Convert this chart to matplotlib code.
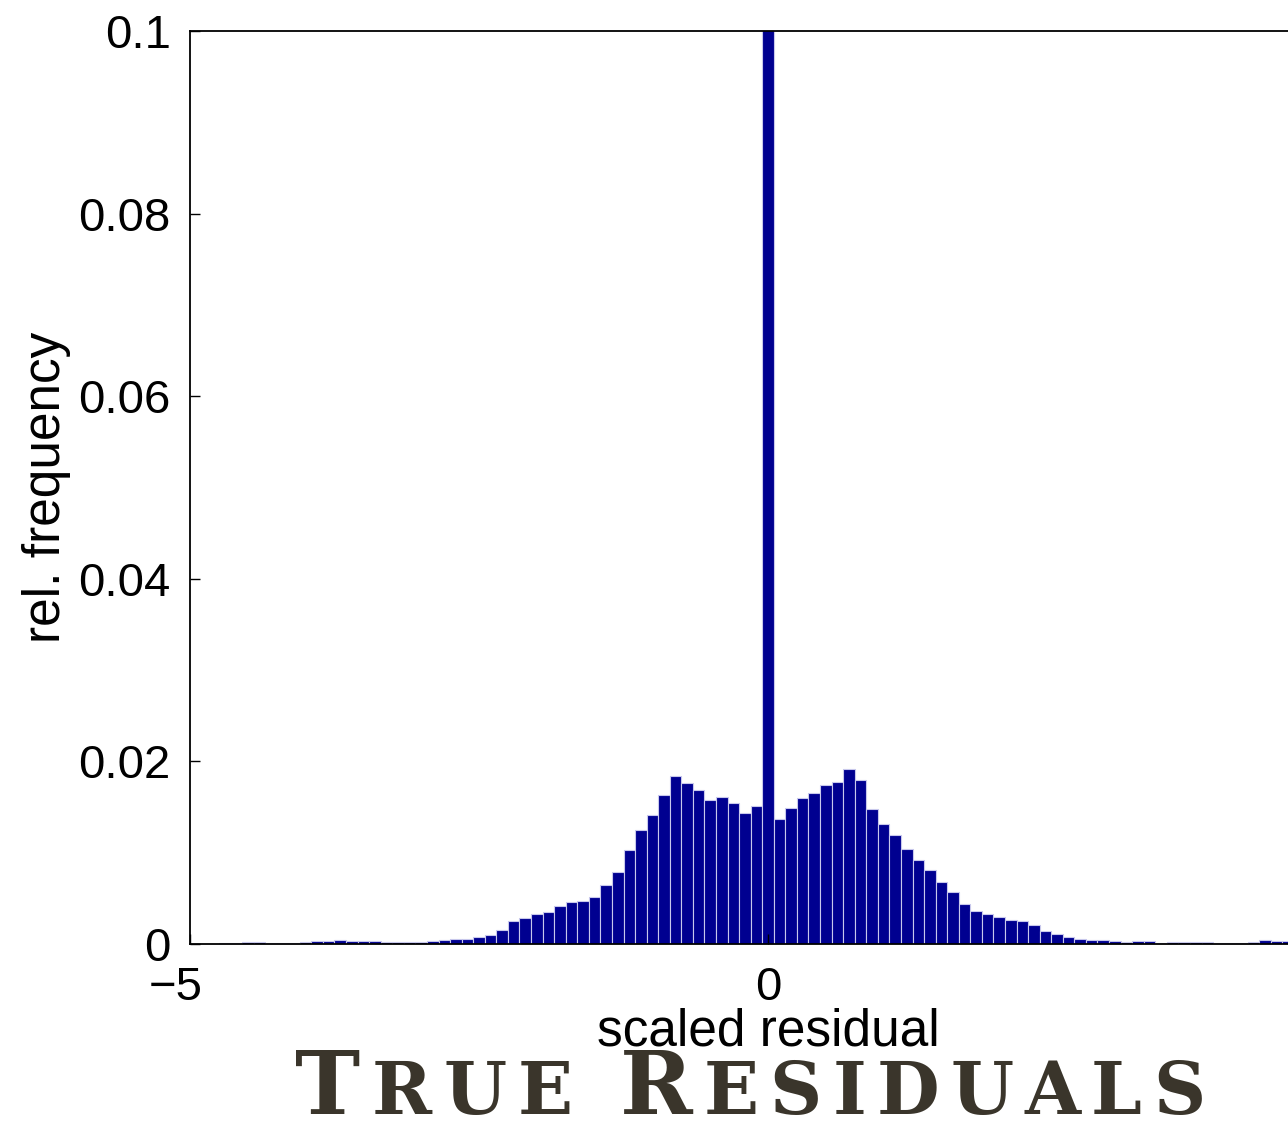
import numpy as np
import matplotlib.pyplot as plt
from matplotlib.transforms import ScaledTranslation

# histogram of scaled residuals, bins of width 0.1 centred on -5 ... 5
bin_centers = np.round(np.arange(-50, 51) * 0.1, 1)
rel_freq = [
    0.0, 0.0, 0.0, 0.00015, 0.00015, 0.0002, 0.0002, 0.00015, 0.00012, 0.0001,   # -5.0 .. -4.1
    0.0002, 0.0003, 0.0003, 0.0004, 0.0003, 0.0003, 0.00035, 0.0002, 0.0002, 0.0002,  # -4.0 .. -3.1
    0.0002, 0.0003, 0.0004, 0.00055, 0.0005, 0.0008, 0.001, 0.0015, 0.0025, 0.0029,  # -3.0 .. -2.1
    0.0033, 0.0035, 0.0042, 0.0046, 0.0047, 0.0052, 0.0065, 0.0079, 0.0103, 0.0125,  # -2.0 .. -1.1
    0.0141, 0.0163, 0.0184, 0.0176, 0.0169, 0.0158, 0.0161, 0.0154, 0.0144, 0.0151,  # -1.0 .. -0.1
    0.25,                                                                              # 0.0 (spike)
    0.0137, 0.0149, 0.0160, 0.0165, 0.0174, 0.0177, 0.0192, 0.0180, 0.0148, 0.0131,  # 0.1 .. 1.0
    0.0119, 0.0104, 0.0092, 0.0081, 0.0068, 0.0057, 0.0044, 0.0036, 0.0033, 0.0030,  # 1.1 .. 2.0
    0.0026, 0.0025, 0.0021, 0.0014, 0.0011, 0.0008, 0.0006, 0.00044, 0.0004, 0.00033,  # 2.1 .. 3.0
    0.0002, 0.0003, 0.00035, 0.00015, 0.0002, 0.0002, 0.0002, 0.0002, 0.00015, 0.00015,  # 3.1 .. 4.0
    0.00015, 0.0002, 0.0004, 0.00035, 0.00035, 0.0003, 0.0003, 0.0003, 0.0003, 0.0003,  # 4.1 .. 5.0
]

y_ticks = [0, 0.02, 0.04, 0.06, 0.08, 0.1]
y_tick_labels = ['0', '0.02', '0.04', '0.06', '0.08', '0.1']
x_ticks = [-5, 0, 5]
x_tick_labels = ['\u22125', '0', '']   # the "5" label falls outside the picture

plt.rcParams['font.family'] = ['Liberation Sans', 'DejaVu Sans']

fig = plt.figure(figsize=(12.88, 11.23), dpi=100)
# the axes run past the right edge of the figure, as in the reference
ax = fig.add_axes([190 / 1288, 179 / 1123, 1156 / 1288, 913 / 1123])

ax.bar(bin_centers, rel_freq, width=0.1, color='#000090',
       edgecolor='#c8c8ec', linewidth=0.8)

ax.set_xlim(-5, 5)
ax.set_ylim(0, 0.1)
ax.set_xticks(x_ticks)
ax.set_xticklabels(x_tick_labels)
ax.set_yticks(y_ticks)
ax.set_yticklabels(y_tick_labels)
ax.tick_params(direction='in', length=7, width=1, labelsize=34, pad=14)
ax.tick_params(axis='x', pad=16)
for s in ax.spines.values():
    s.set_linewidth(1.3)

# nudge the "-5" label left like the reference
lbl = ax.get_xticklabels()[0]
lbl.set_transform(lbl.get_transform() + ScaledTranslation(-0.14, 0, fig.dpi_scale_trans))

fig.text(47 / 1288, 1 - 487 / 1123, 'rel. frequency', fontsize=37,
         rotation=90, ha='center', va='center')
fig.text(768 / 1288, 1 - 1032 / 1123, 'scaled residual', fontsize=37,
         ha='center', va='center')

# small-caps style title, drawn letter by letter and spread to the reference width
title_words = [[('T', True), ('RUE', False)], [('R', True), ('ESIDUALS', False)]]
word_spans = [(295, 573), (620, 1205)]
title_color = '#3a352b'
big_size, small_size = 63, 52
base_y = 1 - 1114 / 1123
fig.canvas.draw()
renderer = fig.canvas.get_renderer()
for word, (x0, x1) in zip(title_words, word_spans):
    letters = []
    for part, big in word:
        for ch in part:
            t = fig.text(0, base_y, ch, fontsize=big_size if big else small_size,
                         family='DejaVu Serif', fontweight='bold', color=title_color,
                         ha='left', va='baseline')
            letters.append((t, t.get_window_extent(renderer).width))
    total = sum(w for _, w in letters)
    gap = (x1 - x0 - total) / (len(letters) - 1)
    x = x0
    for t, w in letters:
        t.set_x(x / 1288)
        x += w + gap

fig.savefig('out.png', dpi=100)
